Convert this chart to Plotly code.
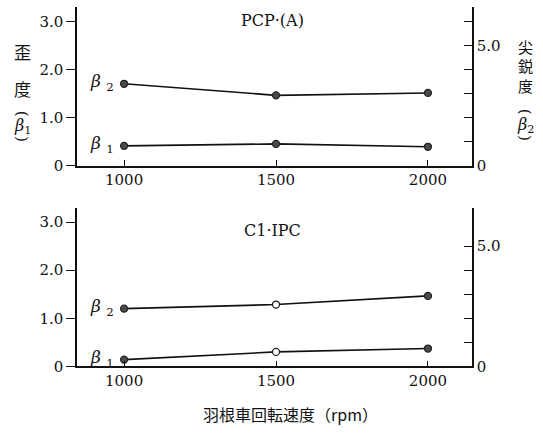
import plotly.graph_objects as go

# Impeller speed (rpm)
rpm = [1000, 1500, 2000]

# PCP-(A): skewness β1 (left axis) and kurtosis β2 (right axis)
pcp_skew = [0.41, 0.45, 0.39]
pcp_kurt = [3.40, 2.92, 3.02]

# C1-IPC
c1_skew = [0.14, 0.30, 0.37]
c1_kurt = [2.40, 2.57, 2.93]

# Marker fill per point (open circles at 1500 rpm in the lower panel)
pcp_fill = ["#4a4a4a", "#4a4a4a", "#4a4a4a"]
c1_fill = ["#4a4a4a", "#ffffff", "#4a4a4a"]

W, H = 543, 440
SERIF = "DejaVu Serif"
CJK = "Noto Sans CJK JP"


def px(x):
    return x / W


def py(y):
    return 1 - y / H


xdom = [px(77), px(472)]
top_dom = [py(169), py(7)]
bot_dom = [py(374), py(212)]

line = dict(color="#111111", width=1.6)


def trace(xa, ya, vals, fill):
    return go.Scatter(
        x=rpm, y=vals, xaxis=xa, yaxis=ya, mode="lines+markers",
        line=line,
        marker=dict(size=7, color=fill, line=dict(color="#222222", width=1.3)),
        showlegend=False, hoverinfo="skip",
    )


fig = go.Figure()
fig.add_trace(trace("x", "y", pcp_skew, pcp_fill))
fig.add_trace(trace("x", "y2", pcp_kurt, pcp_fill))
fig.add_trace(trace("x2", "y3", c1_skew, c1_fill))
fig.add_trace(trace("x2", "y4", c1_kurt, c1_fill))

tickfont = dict(family=SERIF, size=15, color="#111111")

xcommon = dict(
    domain=xdom, range=[845, 2145], tickvals=rpm, ticktext=[str(v) for v in rpm],
    ticks="inside", ticklen=6, tickwidth=1, tickcolor="#111111",
    showline=True, linecolor="#111111", linewidth=1.5, showgrid=False,
    zeroline=False, tickfont=tickfont, fixedrange=True,
)
yleft = dict(
    range=[0, 3.3], tickvals=[0, 1, 2, 3], ticktext=["0", "1.0", "2.0", "3.0"],
    ticks="outside", ticklen=9, tickwidth=1, tickcolor="#111111",
    showline=True, linecolor="#111111", linewidth=1.5, showgrid=False,
    zeroline=False, tickfont=tickfont, side="left",
)
yright_labels = ["0", "", "", "", "", "5.0", ""]

fig.update_layout(
    width=W, height=H,
    margin=dict(l=0, r=0, t=0, b=0),
    paper_bgcolor="white", plot_bgcolor="white",
    xaxis=dict(xcommon, anchor="y"),
    xaxis2=dict(xcommon, anchor="y3"),
    yaxis=dict(yleft, domain=top_dom, anchor="x"),
    yaxis3=dict(yleft, domain=bot_dom, anchor="x2"),
    yaxis2=dict(
        range=[0, 6.6], tickvals=list(range(7)), ticktext=yright_labels,
        ticks="inside", ticklen=8, tickwidth=1, tickcolor="#111111",
        showline=True, linecolor="#111111", linewidth=1.5, showgrid=False,
        zeroline=False, tickfont=tickfont, side="right",
        overlaying="y", anchor="x",
    ),
    yaxis4=dict(
        range=[0, 6.6], tickvals=[0, 1, 2, 3, 4, 5], ticktext=yright_labels[:6],
        ticks="inside", ticklen=8, tickwidth=1, tickcolor="#111111",
        showline=True, linecolor="#111111", linewidth=1.5, showgrid=False,
        zeroline=False, tickfont=tickfont, side="right",
        overlaying="y3", anchor="x2",
    ),
)

ann = []


def text(x, y, s, size=16, family=SERIF, angle=0):
    ann.append(dict(
        x=px(x), y=py(y), xref="paper", yref="paper", text=s, showarrow=False,
        xanchor="center", yanchor="middle", textangle=angle,
        font=dict(family=family, size=size, color="#111111"),
    ))


# Panel titles
text(272, 21, "PCP·(A)", size=16)
text(272, 235, "C1·IPC", size=16)

# Horizontal axis title
text(290, 423, "羽根車回転速度（rpm）", size=16, family=CJK)

# Left vertical title: 歪度（β1）
text(22, 53, "歪", size=17, family=CJK)
text(22, 90, "度", size=17, family=CJK)
text(22, 116, "(", size=15, angle=90)
text(22, 129, "<i>β</i><sub>1</sub>", size=16)
text(22, 142, ")", size=15, angle=90)

# Right vertical title: 尖鋭度（β2）
text(525, 47, "尖", size=15, family=CJK)
text(525, 67, "鋭", size=15, family=CJK)
text(525, 87, "度", size=15, family=CJK)
text(525, 114, "(", size=15, angle=90)
text(525, 128, "<i>β</i><sub>2</sub>", size=16)
text(525, 141, ")", size=15, angle=90)

# Series labels next to the first point of each line
for xa, ya, v, lab in [
    ("x", "y", pcp_skew[0], "<i>β</i> <sub>1</sub>"),
    ("x", "y2", pcp_kurt[0], "<i>β</i> <sub>2</sub>"),
    ("x2", "y3", c1_skew[0], "<i>β</i> <sub>1</sub>"),
    ("x2", "y4", c1_kurt[0], "<i>β</i> <sub>2</sub>"),
]:
    ann.append(dict(
        x=rpm[0], y=v, xref=xa, yref=ya, text=lab, showarrow=False,
        xanchor="right", yanchor="middle", xshift=-8, yshift=1,
        font=dict(family=SERIF, size=17, color="#111111"),
    ))

fig.update_layout(annotations=ann)
fig.write_html("out.html")
